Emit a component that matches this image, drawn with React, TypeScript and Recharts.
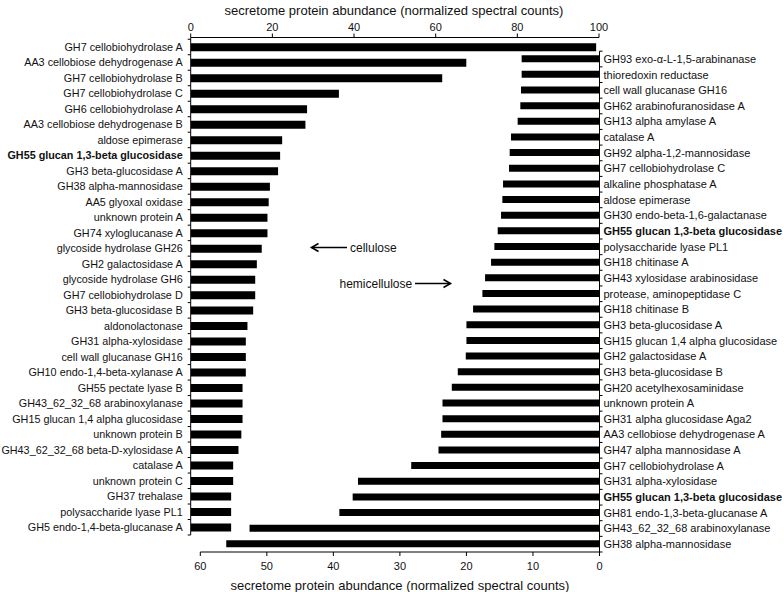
import React from 'react';
import { BarChart, Bar, XAxis, YAxis } from 'recharts';

// cellulose-grown secretome, ranked (top axis, 0-100)
const cellulose = [
  'GH7 cellobiohydrolase A',
  'AA3 cellobiose dehydrogenase A',
  'GH7 cellobiohydrolase B',
  'GH7 cellobiohydrolase C',
  'GH6 cellobiohydrolase A',
  'AA3 cellobiose dehydrogenase B',
  'aldose epimerase',
  'GH55 glucan 1,3-beta glucosidase',
  'GH3 beta-glucosidase A',
  'GH38 alpha-mannosidase',
  'AA5 glyoxal oxidase',
  'unknown protein A',
  'GH74 xyloglucanase A',
  'glycoside hydrolase GH26',
  'GH2 galactosidase A',
  'glycoside hydrolase GH6',
  'GH7 cellobiohydrolase D',
  'GH3 beta-glucosidase B',
  'aldonolactonase',
  'GH31 alpha-xylosidase',
  'cell wall glucanase GH16',
  'GH10 endo-1,4-beta-xylanase A',
  'GH55 pectate lyase B',
  'GH43_62_32_68 arabinoxylanase',
  'GH15 glucan 1,4 alpha glucosidase',
  'unknown protein B',
  'GH43_62_32_68 beta-D-xylosidase A',
  'catalase A',
  'unknown protein C',
  'GH37 trehalase',
  'polysaccharide lyase PL1',
  'GH5 endo-1,4-beta-glucanase A',
];
const celluloseCounts = [
  99.3, 67.5, 61.6, 36.3, 28.5, 28.1, 22.4, 21.9, 21.4, 19.4, 19.1, 18.8, 18.8, 17.4, 16.2, 15.8,
  15.8, 15.3, 13.9, 13.5, 13.5, 13.5, 12.7, 12.7, 12.7, 12.4, 11.7, 10.4, 10.4, 9.9, 9.9, 9.9,
];

// hemicellulose-grown secretome, ranked (bottom axis, 60-0)
const hemicellulose = [
  'GH93 exo-\u03b1-L-1,5-arabinanase',
  'thioredoxin reductase',
  'cell wall glucanase GH16',
  'GH62 arabinofuranosidase A',
  'GH13 alpha amylase A',
  'catalase A',
  'GH92 alpha-1,2-mannosidase',
  'GH7 cellobiohydrolase C',
  'alkaline phosphatase A',
  'aldose epimerase',
  'GH30 endo-beta-1,6-galactanase',
  'GH55 glucan 1,3-beta glucosidase',
  'polysaccharide lyase PL1',
  'GH18 chitinase A',
  'GH43 xylosidase arabinosidase',
  'protease, aminopeptidase C',
  'GH18 chitinase B',
  'GH3 beta-glucosidase A',
  'GH15 glucan 1,4 alpha glucosidase',
  'GH2 galactosidase A',
  'GH3 beta-glucosidase B',
  'GH20 acetylhexosaminidase',
  'unknown protein A',
  'GH31 alpha glucosidase Aga2',
  'AA3 cellobiose dehydrogenase A',
  'GH47 alpha mannosidase A',
  'GH7 cellobiohydrolase A',
  'GH31 alpha-xylosidase',
  'GH55 glucan 1,3-beta glucosidase',
  'GH81 endo-1,3-beta-glucanase A',
  'GH43_62_32_68 arabinoxylanase',
  'GH38 alpha-mannosidase',
];
const hemicelluloseCounts = [
  11.7, 11.7, 11.8, 11.9, 12.3, 13.3, 13.5, 13.6, 14.5, 14.6, 14.8, 15.3, 15.8, 16.3, 17.2, 17.6,
  19.0, 20.0, 20.0, 20.1, 21.3, 22.2, 23.6, 23.6, 23.8, 24.2, 28.3, 36.3, 37.1, 39.1, 52.6, 56.1,
];

const topTicks = [0, 20, 40, 60, 80, 100];
const bottomTicks = [0, 10, 20, 30, 40, 50, 60];
const axisTitle = 'secretome protein abundance (normalized spectral counts)';
const highlight = 'GH55 glucan 1,3-beta glucosidase';

const W = 784;
const H = 592;
const FONT = '"Liberation Sans", Arial, Helvetica, sans-serif';

// left (cellulose) plot box
const L_AXIS = 190.7;
const L_TOP = 37.5;
const L_PAD = 1.75;
const L_BOTTOM = 535;
const L_BAND = (L_BOTTOM - L_TOP - L_PAD) / cellulose.length;

// right (hemicellulose) plot box
const R_AXIS = 599.5;
const R_LEFT = 200.3;
const R_TOP = 51.2;
const R_BOTTOM = 552;
const R_BAND = (R_BOTTOM - R_TOP) / hemicellulose.length;

const leftData = cellulose.map((name, i) => ({ id: `c${i}`, name, value: celluloseCounts[i] }));
const rightData = hemicellulose.map((name, i) => ({ id: `h${i}`, name, value: hemicelluloseCounts[i] }));

function LeftTick(props: any) {
  const { y, payload, index } = props;
  const i = payload?.index ?? index;
  const name = cellulose[i];
  const half = L_BAND / 2;
  return (
    <g>
      {i === 0 && <line x1={L_AXIS - 3} x2={L_AXIS} y1={y - half} y2={y - half} stroke="#000" />}
      <line x1={L_AXIS - 3} x2={L_AXIS} y1={y + half} y2={y + half} stroke="#000" />
      <text
        x={L_AXIS - 8}
        y={y}
        dy="0.35em"
        textAnchor="end"
        fontSize={10.8}
        fontFamily={FONT}
        fontWeight={name === highlight ? 'bold' : 'normal'}
        fill="#111"
      >
        {name}
      </text>
    </g>
  );
}

function RightTick(props: any) {
  const { y, payload, index } = props;
  const i = payload?.index ?? index;
  const name = hemicellulose[i];
  const half = R_BAND / 2;
  return (
    <g>
      {i === 0 && <line x1={R_AXIS} x2={R_AXIS + 3} y1={y - half} y2={y - half} stroke="#000" />}
      <line x1={R_AXIS} x2={R_AXIS + 3} y1={y + half} y2={y + half} stroke="#000" />
      <text
        x={R_AXIS + 4}
        y={y}
        dy="0.35em"
        textAnchor="start"
        fontSize={11}
        fontFamily={FONT}
        fontWeight={name === highlight ? 'bold' : 'normal'}
        fill="#111"
      >
        {name}
      </text>
    </g>
  );
}

const tickStyle = { fontSize: 11, fill: '#111', fontFamily: FONT };

export default function App() {
  return (
    <div style={{ position: 'absolute', left: 0, top: 0, width: W, height: H, background: '#fff', fontFamily: FONT }}>
      <div style={{ position: 'absolute', left: 0, top: 0 }}>
        <BarChart
          width={W}
          height={H}
          data={leftData}
          layout="vertical"
          margin={{ top: 0, right: W - 599, bottom: H - L_BOTTOM, left: 0 }}
        >
          <XAxis
            type="number"
            orientation="top"
            domain={[0, 100]}
            ticks={topTicks}
            height={L_TOP}
            tickSize={4}
            tickMargin={3}
            tick={tickStyle}
            stroke="#000"
            allowDataOverflow
          />
          <YAxis
            type="category"
            dataKey="id"
            width={L_AXIS}
            interval={0}
            tickLine={false}
            tick={<LeftTick />}
            stroke="#000"
            padding={{ top: L_PAD, bottom: 0 }}
          />
          <Bar dataKey="value" fill="#000" barSize={8} isAnimationActive={false} />
        </BarChart>
      </div>
      <div style={{ position: 'absolute', left: 0, top: 0 }}>
        <BarChart
          width={W}
          height={H}
          data={rightData}
          layout="vertical"
          margin={{ top: R_TOP, right: 0, bottom: 0, left: R_LEFT }}
        >
          <XAxis
            type="number"
            orientation="bottom"
            domain={[0, 60]}
            ticks={bottomTicks}
            reversed
            height={H - R_BOTTOM}
            tickSize={4}
            tickMargin={6}
            tick={tickStyle}
            stroke="#000"
          />
          <YAxis
            type="category"
            dataKey="id"
            orientation="right"
            width={W - R_AXIS}
            interval={0}
            tickLine={false}
            tick={<RightTick />}
            stroke="#000"
          />
          <Bar dataKey="value" fill="#000" barSize={7} isAnimationActive={false} />
        </BarChart>
      </div>
      <svg
        width={W}
        height={H}
        style={{ position: 'absolute', left: 0, top: 0, pointerEvents: 'none' }}
      >
        <text x={394} y={10} dy="0.35em" textAnchor="middle" fontSize={13} fontFamily={FONT} fill="#111">
          {axisTitle}
        </text>
        <text x={400} y={585} dy="0.35em" textAnchor="middle" fontSize={13} fontFamily={FONT} fill="#111">
          {axisTitle}
        </text>
        <g stroke="#000" strokeWidth={1.6} fill="none">
          <line x1={311.5} y1={247.5} x2={347} y2={247.5} />
          <polyline points="318.5,243.5 311.5,247.5 318.5,251.5" />
          <line x1={415} y1={283.5} x2={450.5} y2={283.5} />
          <polyline points="443.5,279.5 450.5,283.5 443.5,287.5" />
        </g>
        <text x={350} y={247.5} dy="0.35em" fontSize={12} fontFamily={FONT} fill="#111">
          cellulose
        </text>
        <text x={339.5} y={283.5} dy="0.35em" fontSize={12} fontFamily={FONT} fill="#111">
          hemicellulose
        </text>
      </svg>
    </div>
  );
}
